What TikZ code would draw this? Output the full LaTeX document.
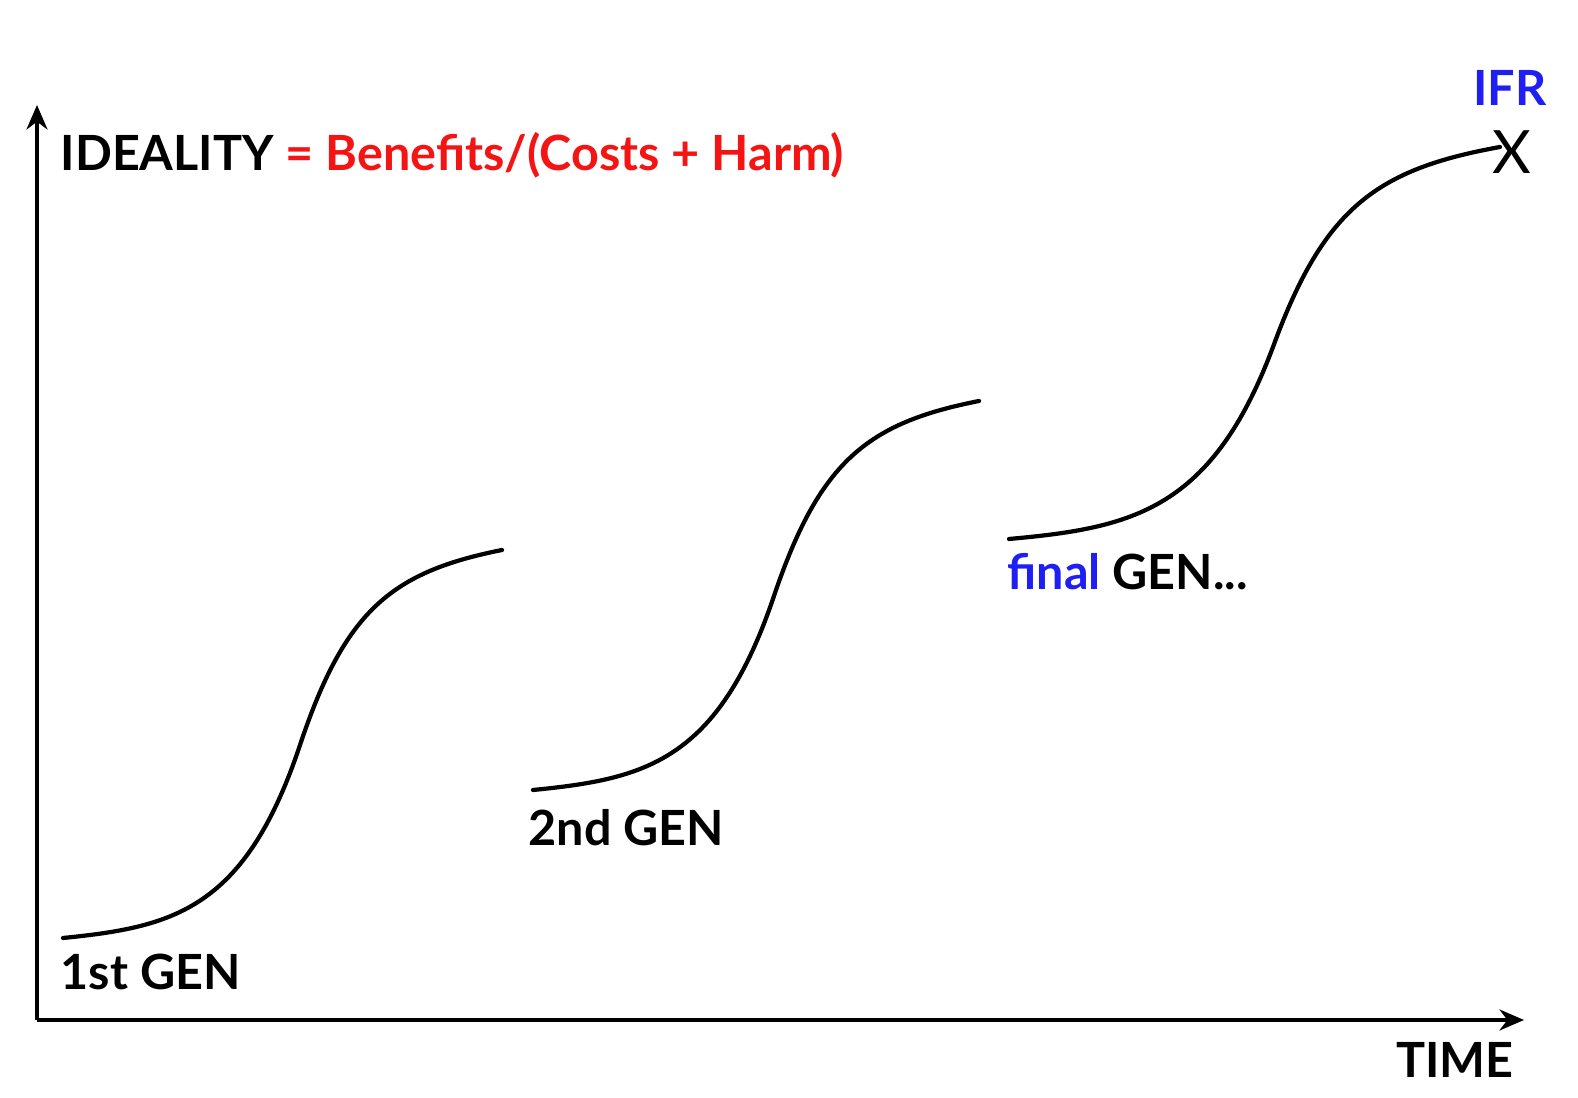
\documentclass[tikz,border=0pt]{standalone}
\usepackage{fontspec}
\setmainfont{Lato}
\usetikzlibrary{arrows.meta}
\definecolor{ifrblue}{RGB}{30,30,245}
\definecolor{formred}{RGB}{245,20,20}
\begin{document}
\begin{tikzpicture}[x=0.01cm,y=-0.01cm,
  lbl/.style={font=\fontsize{13.8}{16}\selectfont\bfseries, inner sep=0pt},
  axis/.style={line width=0.9pt, -{Stealth[length=7pt,width=6pt]}},
  scurve/.style={line width=1.2pt, line cap=round}]
\useasboundingbox (0,0) rectangle (1578,1098);
\coordinate (O) at (37,1020);
\coordinate (Ytip) at (37,105);
\coordinate (Xtip) at (1524,1020);
\draw[axis] (O) -- (Ytip);
\draw[axis] (O) -- (Xtip);
% S-curves: two cubic Beziers each, in normalised form
\foreach \xa/\ya/\xb/\yb in {63/938/502/550, 533/790/979/401, 1009/539/1500/147}{
  \draw[scurve] (\xa,\ya)
    .. controls ({\xa+0.2506*(\xb-\xa)},{\ya+0.0284*(\yb-\ya)})
            and ({\xa+0.4146*(\xb-\xa)},{\ya+0.0722*(\yb-\ya)})
    .. ({\xa+0.5399*(\xb-\xa)},{\ya+0.4974*(\yb-\ya)})
    .. controls ({\xa+0.6424*(\xb-\xa)},{\ya+0.8454*(\yb-\ya)})
            and ({\xa+0.7494*(\xb-\xa)},{\ya+0.9433*(\yb-\ya)})
    .. (\xb,\yb);
}
\node[lbl, anchor=west] (ideal) at (60,155) {IDEALITY \textcolor{formred}{= Benefits/(Costs + Harm)}};
\node[lbl, anchor=center, text=ifrblue] (ifr) at (1510,88) {IFR};
\node[font=\fontsize{17}{20}\selectfont, inner sep=0pt] (xmark) at (1512,152) {X};
\node[lbl, anchor=west] (g1) at (60,972) {1st GEN};
\node[lbl, anchor=west] (g2) at (528,828) {2nd GEN};
\node[lbl, anchor=west] (g3) at (1007,572) {\textcolor{ifrblue}{final} GEN...};
\node[lbl, anchor=center] (time) at (1455,1060) {TIME};
\end{tikzpicture}
\end{document}
